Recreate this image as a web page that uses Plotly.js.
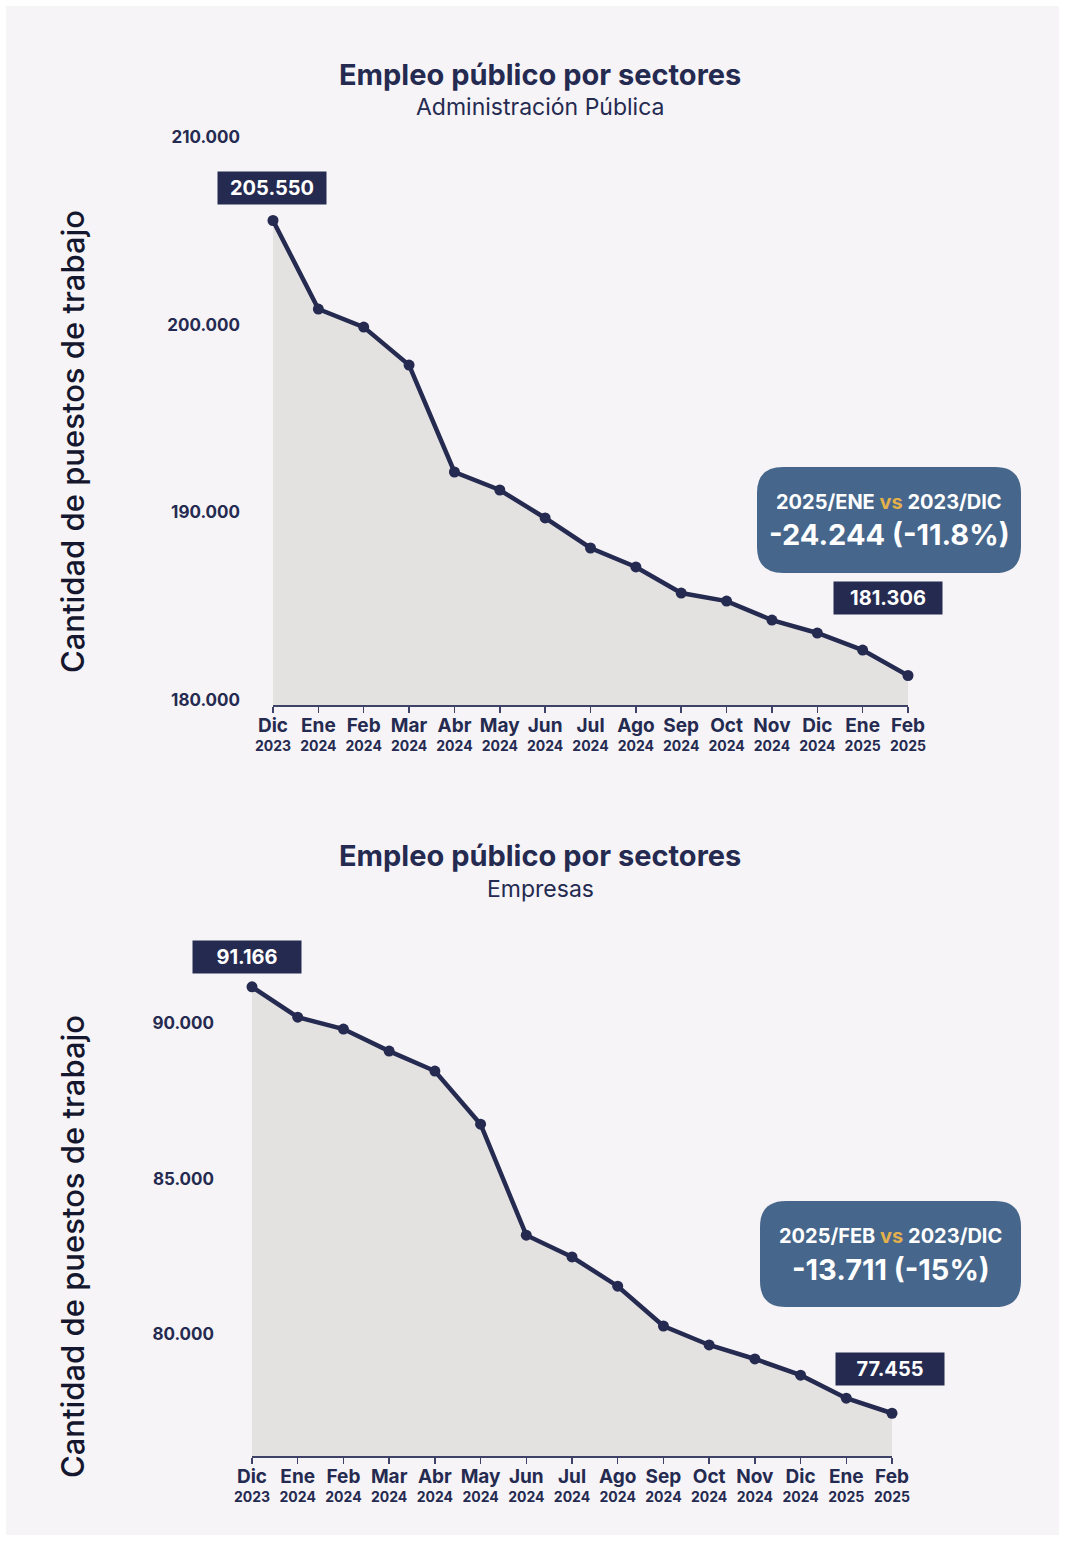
<!DOCTYPE html>
<html><head><meta charset="utf-8">
<script src="https://cdn.plot.ly/plotly-3.0.1.min.js"></script>
<style>
html,body{margin:0;padding:0;background:#ffffff;}
#chart{position:absolute;left:6px;top:6px;width:1053px;height:1529px;}
</style></head>
<body><div id="chart"></div>
<script>
// ---- data ----
const months = ["Dic","Ene","Feb","Mar","Abr","May","Jun","Jul","Ago","Sep","Oct","Nov","Dic","Ene","Feb"];
const years  = ["2023","2024","2024","2024","2024","2024","2024","2024","2024","2024","2024","2024","2024","2025","2025"];
const adminValues = [205550,200830,199870,197850,192150,191190,189700,188100,187090,185700,185270,184260,183570,182660,181306];
const empresasValues = [91166,90190,89810,89100,88460,86750,83180,82480,81540,80260,79650,79200,78680,77940,77455];
const adminTicks = [180000,190000,200000,210000];
const empresasTicks = [80000,85000,90000];
const titleText = "Empleo público por sectores";
const subtitles = ["Administración Pública","Empresas"];
const compareLabels = [["2025/ENE","2023/DIC"],["2025/FEB","2023/DIC"]];
const yTitle = "Cantidad de puestos de trabajo";

// ---- helpers ----
const W=1053,H=1529,OX=6,OY=6;
const fx = p => (p-OX)/W;
const fy = p => 1-(p-OY)/H;
const NAVY="#252a50", FILL="#e4e2e1", BOX="#46668b", GOLD="#e3b04b", FONT="Inter, 'Open Sans', sans-serif";
const idx = months.map((_,i)=>i);
const ticktext = months.map((m,i)=>`<span style="font-size:19px"><b>${m}</b></span><br><b>${years[i]}</b>`);
const fmt = v => v.toLocaleString('de-DE');
function pct(a,b){let p=((b-a)/a*100).toFixed(1); if(p.endsWith('.0')) p=p.slice(0,-2); return p;}
function rr(X,Y,x0,y0,x1,y1,r){
  return `M ${X(x0+r)} ${Y(y0)} L ${X(x1-r)} ${Y(y0)} Q ${X(x1)} ${Y(y0)} ${X(x1)} ${Y(y0+r)} L ${X(x1)} ${Y(y1-r)} Q ${X(x1)} ${Y(y1)} ${X(x1-r)} ${Y(y1)} L ${X(x0+r)} ${Y(y1)} Q ${X(x0)} ${Y(y1)} ${X(x0)} ${Y(y1-r)} L ${X(x0)} ${Y(y0+r)} Q ${X(x0)} ${Y(y0)} ${X(x0+r)} ${Y(y0)} Z`;
}

function trace(vals, xa, ya){
  return {x:idx, y:vals, xaxis:xa, yaxis:ya, type:'scatter', mode:'lines+markers',
    line:{color:NAVY,width:4.5}, marker:{color:NAVY,size:11},
    fill:'tozeroy', fillcolor:FILL, hoverinfo:'skip', cliponaxis:false};
}
const data=[trace(adminValues,'x','y'), trace(empresasValues,'x2','y2')];

const xaxisBase = {range:[0,14], tickvals:idx, ticktext:ticktext, showgrid:false, zeroline:false,
  showline:true, linecolor:'#3d4266', linewidth:1.5, ticks:'outside', ticklen:6, tickcolor:'#3d4266', tickwidth:1.5,
  ticklabelstandoff:3, tickfont:{family:FONT,size:14,color:NAVY}, fixedrange:true};
const yaxisBase = {showgrid:false, zeroline:false, showline:false, tickformat:',d',
  tickfont:{family:FONT,size:17,color:NAVY,weight:700}, ticks:'', fixedrange:true};

const ann=[];
const shapes=[];
function addTitle(yT,ySub,sub){
  ann.push({xref:'paper',yref:'paper',x:fx(540),y:fy(yT),text:`<b>${titleText}</b>`,showarrow:false,
    font:{family:FONT,size:29,color:NAVY},xanchor:'center',yanchor:'middle'});
  ann.push({xref:'paper',yref:'paper',x:fx(540),y:fy(ySub),text:sub,showarrow:false,
    font:{family:FONT,size:23,color:NAVY},xanchor:'center',yanchor:'middle'});
}
addTitle(74,107,subtitles[0]);
addTitle(856,889,subtitles[1]);
[[442],[1247]].forEach(([cy])=>{
  ann.push({xref:'paper',yref:'paper',x:fx(72),y:fy(cy),text:yTitle,textangle:-90,showarrow:false,
    font:{family:FONT,size:31,color:'#15172e',weight:500},xanchor:'center',yanchor:'middle'});
});
function valLabel(xa,ya,i,v,xs,ys){
  ann.push({xref:xa,yref:ya,x:i,y:v,text:`<b>${fmt(v)}</b>`,showarrow:false,xshift:xs,yshift:ys,
    bgcolor:NAVY,borderpad:4,width:100,font:{family:FONT,size:20,color:'#ffffff'},xanchor:'center',yanchor:'middle'});
}
const n=adminValues.length-1;
valLabel('x','y',0,adminValues[0],-1.5,33);
valLabel('x','y',n,adminValues[n],-20,78);
valLabel('x2','y2',0,empresasValues[0],-5.5,30);
valLabel('x2','y2',n,empresasValues[n],-2.5,44);

function compareBox(x0,y0,x1,y1,labels,a,b){
  shapes.push({type:'path',xref:'paper',yref:'paper',path:rr(fx,fy,x0,y0,x1,y1,26),fillcolor:BOX,line:{width:0},layer:'above'});
  const cx=(x0+x1)/2;
  ann.push({xref:'paper',yref:'paper',x:fx(cx),y:fy(y0+35),text:`<b>${labels[0]} <span style="color:${GOLD}">vs</span> ${labels[1]}</b>`,
    showarrow:false,font:{family:FONT,size:20,color:'#ffffff'},xanchor:'center',yanchor:'middle'});
  ann.push({xref:'paper',yref:'paper',x:fx(cx),y:fy(y0+68),text:`<b>${fmt(b-a)} (${pct(a,b)}%)</b>`,
    showarrow:false,font:{family:FONT,size:29,color:'#ffffff'},xanchor:'center',yanchor:'middle'});
}
compareBox(757,467,1021,573,compareLabels[0],adminValues[0],adminValues[n]);
compareBox(760,1201,1021,1307,compareLabels[1],empresasValues[0],empresasValues[n]);

const layout={width:W,height:H,margin:{l:0,r:0,t:0,b:0},paper_bgcolor:'#f6f4f7',plot_bgcolor:'rgba(0,0,0,0)',
  showlegend:false,separators:',.',font:{family:FONT,color:NAVY},
  xaxis:Object.assign({},xaxisBase,{domain:[fx(273),fx(908)],anchor:'y'}),
  yaxis:Object.assign({},yaxisBase,{domain:[fy(705),fy(137)],range:[179734,210000],tickvals:adminTicks,ticklabelstandoff:32,anchor:'x'}),
  xaxis2:Object.assign({},xaxisBase,{domain:[fx(252),fx(892)],anchor:'y2'}),
  yaxis2:Object.assign({},yaxisBase,{domain:[fy(1456),fy(960)],range:[76080,92030],tickvals:empresasTicks,ticklabelstandoff:37,anchor:'x2'}),
  annotations:ann, shapes:shapes};
Plotly.newPlot('chart',data,layout,{staticPlot:true,displayModeBar:false});
</script></body></html>
